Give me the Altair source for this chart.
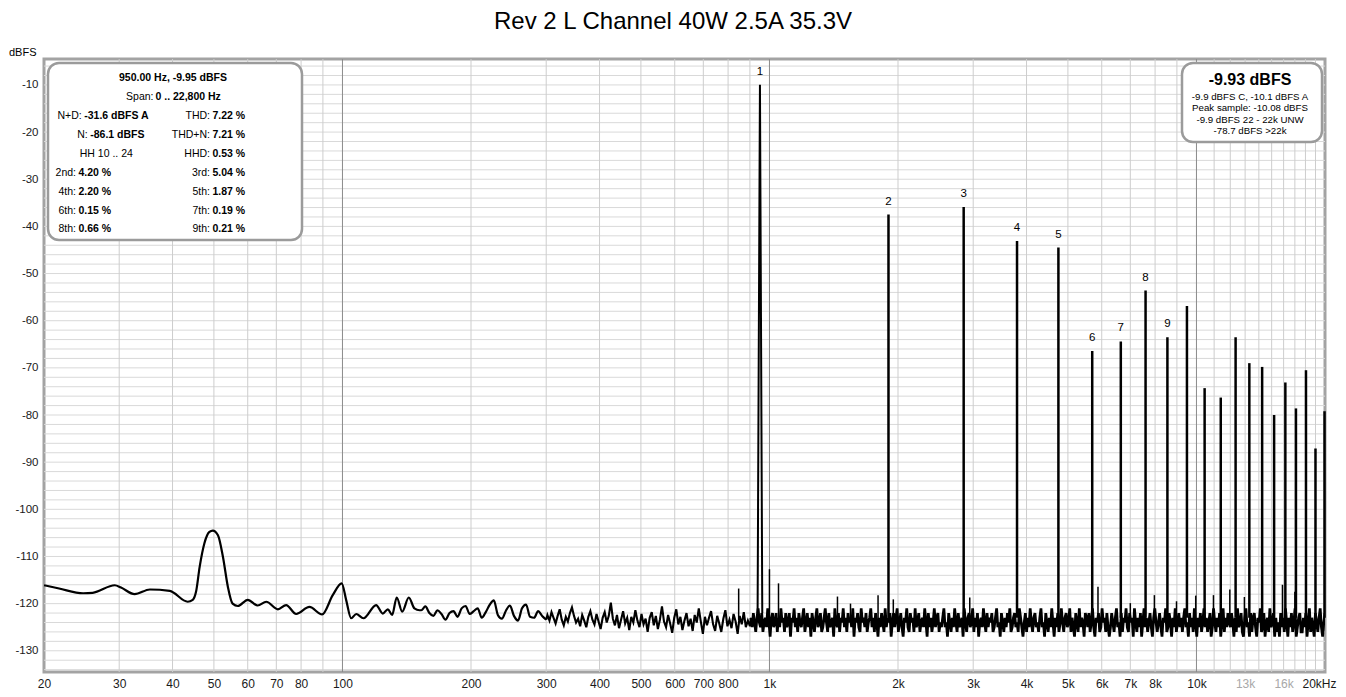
import altair as alt
import numpy as np
import pandas as pd

FONT = "Liberation Sans, Arial, sans-serif"

# ---------------- data ----------------
title_text = "Rev 2 L Channel 40W 2.5A 35.3V"

fund_freq = [950.0]
fund_db = [-9.95]
fund_shape_freq = [938, 950, 962]
fund_shape_db = [-122.0, -9.95, -122.0]

harm_freq = [1900, 2850, 3800, 4750, 5700, 6650, 7600, 8550, 9500, 10450,
             11400, 12350, 13300, 14250, 15200, 16150, 17100, 18050, 19000, 19950]
harm_db = [-37.5, -35.9, -43.1, -44.5, -66.4, -64.4, -53.6, -63.5, -56.9, -74.3,
           -76.3, -63.5, -69.0, -69.8, -80.0, -73.1, -78.6, -70.5, -87.1, -79.2]
harm_label = ["1", "2", "3", "4", "5", "6", "7", "8", "9"]

spur_freq = [847, 1000, 1050, 1443, 1548, 1796, 1950, 2945, 5880, 7000,
             7970, 8980, 9960, 10960, 11970, 12950, 15900, 17000]
spur_db = [-116.8, -112.7, -115.7, -118.5, -120.0, -118.2, -119.1, -118.7, -116.4, -119.9,
           -118.2, -119.5, -118.3, -118.2, -117.0, -118.6, -116.0, -117.5]

# low-frequency part of the noise floor (Hz, dBFS)
lf_freq = [20, 21.7, 24.7, 26.0, 29.3, 30.3, 32.6, 35.4, 39.4, 43.4, 44.6, 45.4, 46.3,
           47.5, 48.8, 49.7, 51.1, 52.5, 53.9, 55.3, 56.9, 60.0, 63.3, 66.3, 70.6, 73.8,
           77.9, 83.7, 89.6, 94.9, 99.6, 102, 104.8, 107.7, 112, 119.9, 124.3, 127.7,
           130.7, 134.0, 138, 143.0, 147.4, 151.5]
lf_db = [-116.1, -116.8, -117.8, -117.7, -116.1, -116.6, -118.0, -117.0, -117.3, -119.6,
         -119.2, -117.5, -112.2, -107.2, -104.8, -104.5, -105.5, -110.1, -116.4, -120.0,
         -120.5, -119.2, -120.4, -119.6, -121.2, -120.3, -122.2, -120.7, -122.3, -118.2,
         -115.7, -119.2, -123.1, -122.2, -123.1, -120.3, -122.1, -121.2, -122.4, -118.7,
         -121.7, -118.7, -121.0, -121.4]

# 153 .. 300 Hz
mid1_db = [-121.4, -120.6, -122.0, -122.6, -121.4, -122.2, -123.4, -122.0, -121.6, -122.8,
           -121.0, -120.5, -122.2, -121.6, -121.0, -123.0, -121.8, -120.2, -119.3, -122.4,
           -123.2, -121.5, -120.4, -122.6, -123.6, -121.0, -120.2, -122.8, -123.0, -121.6,
           -122.6, -123.4]

# 302 .. 900 Hz
mid2_db = [-122.4, -123.6, -121.8, -123.0, -124.2, -122.6, -121.2, -123.4, -124.6, -122.8,
           -123.8, -122.0, -120.8, -122.6, -124.0, -123.2, -124.8, -122.4, -123.6, -125.0,
           -122.8, -121.6, -123.4, -124.4, -122.2, -123.8, -125.4, -123.0, -121.8, -124.0,
           -122.6, -119.8, -123.2, -124.6, -122.4, -125.2, -123.4, -121.6, -124.2, -123.0,
           -125.6, -122.8, -124.0, -121.4, -123.6, -125.0, -122.2, -124.4, -123.2, -126.0,
           -123.0, -121.8, -124.6, -122.6, -125.4, -123.4, -120.6, -123.8, -125.0, -122.4,
           -124.2, -126.2, -123.0, -121.2, -124.4, -122.8, -125.6, -123.6, -122.0, -124.8,
           -123.2, -125.8, -122.4, -124.0, -121.0, -123.8, -126.4, -122.8, -124.6, -123.0,
           -121.6, -124.4, -125.8, -122.6, -124.2, -126.0, -123.2, -121.4, -124.8, -123.4,
           -125.2, -122.2, -123.8, -126.4, -122.6, -124.4, -121.8, -125.0, -123.6, -124.8]

# 905 Hz .. 20 kHz (dense FFT floor)
hf_rows = """
123 125 122 124 126 123 121 124 125 122 126 124 123 125 121 124 127 123 122 125
124 122 126 123 125 121 124 123 126 122 125 124 122 127 123 124 121 125 123 126
122 124 125 123 121 126 124 122 125 123 127 122 124 126 123 121 125 124 122 126
125 123 121 124 126 122 125 124 123 127 121 124 125 122 126 123 124 121 125 123
126 122 124 123 125 121 127 123 124 122 125 126 121 124 123 125 122 126 124 123
121 125 123 126 122 124 127 123 125 122 124 126 121 125 123 124 122 127 124 122
125 123 121 126 124 122 125 127 123 124 121 125 126 122 124 123 126 121 125 124
122 126 124 123 125 121 124 127 122 125 123 126 124 121 125 123 122 126 124 125
123 121 125 124 127 122 124 126 123 125 121 124 126 122 125 124 123 127 121 124
126 123 122 125 124 121 126 123 125 122 127 124 123 125 121 124 126 122 125 123
124 122 126 125 123 121 125 124 127 122 124 126 123 125 122 124 121 126 125 123
122 125 124 126 121 123 125 127 124 122 126 123 125 121 124 126 123 122 125 124
126 123 121 125 124 127 122 124 126 123 125 121 124 127 123 125 122 126 124 121
124 126 123 122 125 124 121 126 123 125 127 122 124 126 121 125 123 124 127 122
123 125 122 126 124 121 125 127 123 124 122 126 125 121 124 123 126 122 125 127
125 122 124 126 123 121 125 124 127 122 126 123 124 121 125 126 122 124 123 127
121 124 126 123 125 122 127 124 121 125 123 126 124 122 125 127 123 121 124 126
124 122 125 127 123 124 121 126 125 122 124 127 123 125 121 126 124 122 125 123
126 123 121 125 124 127 122 125 123 126 121 124 127 123 125 122 126 124 121 125
123 126 124 122 127 125 121 124 126 123 125 122 127 124 121 126 123 125 122 124
125 122 124 127 123 126 121 125 124 122 126 127 123 121 125 124 127 122 126 123
122 125 127 123 124 121 126 125 122 127 124 123 126 121 125 124 122 127 123 126
124 127 122 125 123 126 121 124 127 123 125 122 126 124 121 127 125 123 122 126
126 123 125 122 127 124 121 126 123 125 127 122 124 126 123 121 125 127 124 122
"""
hf_db = [-float(v) for v in hf_rows.split()]

# axes
x_tick_vals = [20, 30, 40, 50, 60, 70, 80, 100, 200, 300, 400, 500, 600, 700, 800,
               1000, 2000, 3000, 4000, 5000, 6000, 7000, 8000, 10000, 13000, 16000, 20000]
x_tick_text = ["20", "30", "40", "50", "60", "70", "80", "100", "200", "300", "400", "500",
               "600", "700", "800", "1k", "2k", "3k", "4k", "5k", "6k", "7k", "8k", "10k",
               "13k", "16k", "20kHz"]
x_faint = [13000, 16000]
x_grid_minor = [30, 40, 50, 60, 70, 80, 90, 200, 300, 400, 500, 600, 700, 800, 900,
                2000, 3000, 4000, 5000, 6000, 7000, 8000, 9000,
                11000, 12000, 13000, 14000, 15000, 16000, 17000, 18000, 19000]
x_grid_major = [100, 1000, 10000]
y_tick_vals = [-10, -20, -30, -40, -50, -60, -70, -80, -90, -100, -110, -120, -130]
y_grid = list(range(-134, -5, 2))

box_head = "950.00 Hz, -9.95 dBFS"
box_span = ("Span:", "0 .. 22,800 Hz")
box_left = [("N+D:", "-31.6 dBFS A"), ("N:", "-86.1 dBFS"), ("HH 10 .. 24", ""),
            ("2nd:", "4.20 %"), ("4th:", "2.20 %"), ("6th:", "0.15 %"), ("8th:", "0.66 %")]
box_right = [("THD:", "7.22 %"), ("THD+N:", "7.21 %"), ("HHD:", "0.53 %"),
             ("3rd:", "5.04 %"), ("5th:", "1.87 %"), ("7th:", "0.19 %"), ("9th:", "0.21 %")]
level_head = "-9.93 dBFS"
level_lines = ["-9.9 dBFS C, -10.1 dBFS A", "Peak sample: -10.08 dBFS",
               "-9.9 dBFS 22 - 22k UNW", "-78.7 dBFS >22k"]

# ---------------- tables ----------------
mid1_freq = list(np.geomspace(153, 300, len(mid1_db)))
mid2_freq = list(np.geomspace(302, 900, len(mid2_db)))
hf_freq = list(np.geomspace(905, 20000, len(hf_db)))
smooth = pd.DataFrame({"f": list(lf_freq) + mid1_freq, "db": list(lf_db) + mid1_db})
middle = pd.DataFrame({"f": [mid1_freq[-1]] + mid2_freq + [hf_freq[0]],
                       "db": [mid1_db[-1]] + mid2_db + [hf_db[0]]})
dense = pd.DataFrame({"f": hf_freq, "db": hf_db})

harm = pd.DataFrame({"f": harm_freq, "db": harm_db, "base": [-123.0] * len(harm_freq)})
spur = pd.DataFrame({"f": spur_freq, "db": spur_db, "base": [-123.5] * len(spur_freq)})
fund = pd.DataFrame({"f": fund_shape_freq, "db": fund_shape_db})
labels = pd.DataFrame({"f": fund_freq + harm_freq[:8], "db": fund_db + harm_db[:8],
                       "t": harm_label})
gmin = pd.DataFrame({"f": x_grid_minor})
gmaj = pd.DataFrame({"f": x_grid_major})
hgrid = pd.DataFrame({"db": y_grid})

# ---------------- scales / axes ----------------
W, H = 1281, 613
xs = alt.Scale(type="log", domain=[20, 20000], nice=False)
ys = alt.Scale(domain=[-134.5, -4.5], nice=False, zero=False)

expr = "''"
for v, t in reversed(list(zip(x_tick_vals, x_tick_text))):
    expr = f"(round(datum.value) == {v} ? '{t}' : {expr})"
faint_test = " || ".join(f"round(datum.value) == {v}" for v in x_faint)

xa = alt.Axis(values=x_tick_vals, labelExpr=expr, grid=False, ticks=False, tickSize=0,
              domain=False, labelFlush=False, labelOverlap=False, labelBound=False,
              labelPadding=6, labelFontSize=12, labelFont=FONT,
              labelColor={"condition": {"test": faint_test, "value": "#a8a8a8"},
                          "value": "#1a1a1a"},
              labelOffset={"condition": {"test": "round(datum.value) == 20000", "value": -6},
                           "value": 0},
              title=None)
ya = alt.Axis(values=y_tick_vals, labelExpr="'' + datum.value", grid=False, ticks=False,
              tickSize=0, domain=False, labelPadding=6, labelFontSize=11.5, labelFont=FONT,
              labelColor="#1a1a1a", labelOverlap=False, title=None)

X = alt.X("f:Q", scale=xs, axis=xa)
Y = alt.Y("db:Q", scale=ys, axis=ya)

layers = []
layers.append(alt.Chart(hgrid).mark_rule(color="#d9d9d9", strokeWidth=1).encode(y=Y))
layers.append(alt.Chart(gmin).mark_rule(color="#cdcdcd", strokeWidth=1).encode(x=X))
layers.append(alt.Chart(gmaj).mark_rule(color="#8a8a8a", strokeWidth=1).encode(x=X))
layers.append(alt.Chart(smooth).mark_line(color="#000000", strokeWidth=2.2, clip=True,
                                          interpolate="monotone")
              .encode(x=X, y=Y, order="f:Q"))
layers.append(alt.Chart(middle).mark_line(color="#000000", strokeWidth=2.1, clip=True)
              .encode(x=X, y=Y, order="f:Q"))
layers.append(alt.Chart(dense).mark_line(color="#000000", strokeWidth=2.7, clip=True)
              .encode(x=X, y=Y, order="f:Q"))
layers.append(alt.Chart(spur).mark_rule(color="#000000", strokeWidth=1.5)
              .encode(x=X, y=Y, y2="base:Q"))
layers.append(alt.Chart(harm).mark_rule(color="#000000", strokeWidth=2.5)
              .encode(x=X, y=Y, y2="base:Q"))
layers.append(alt.Chart(fund).mark_line(color="#000000", strokeWidth=2, strokeJoin="bevel")
              .encode(x=X, y=Y, order="f:Q"))
layers.append(alt.Chart(labels).mark_text(fontSize=11.5, font=FONT, color="#000000",
                                          baseline="middle", dy=-13)
              .encode(x=X, y=Y, text="t:N"))

dummy = pd.DataFrame({"k": [0]})


def note(text, x, y, size=10.5, bold=False, align="left", color="#000000", baseline="middle"):
    return (alt.Chart(dummy)
            .mark_text(align=align, baseline=baseline, fontSize=size,
                       fontWeight="bold" if bold else "normal", font=FONT, color=color)
            .encode(x=alt.value(x), y=alt.value(y), text=alt.value(text)))


def box(x1, y1, x2, y2):
    return (alt.Chart(dummy)
            .mark_rect(cornerRadius=11, fill="#ffffff", stroke="#9b9b9b", strokeWidth=2.5)
            .encode(x=alt.value(x1), x2=alt.value(x2), y=alt.value(y1), y2=alt.value(y2)))


# title & unit
layers.append(note(title_text, 629, -30, size=24, align="center", baseline="alphabetic"))
layers.append(note("dBFS", -35, -3, size=11, baseline="alphabetic"))

# left info box
layers.append(box(4, 4, 258, 181))
layers.append(note(box_head, 129, 18.7, bold=True, align="center"))
layers.append(note(box_span[0], 109.5, 37.7, align="right"))
layers.append(note(box_span[1], 111.5, 37.7, bold=True))
row_y = [56.7, 76, 95, 114.3, 132.7, 151.7, 170.3]
left_lab_x = [37.7, 43.7, None, 32, 32, 32, 32]
for i, (lab, val) in enumerate(box_left):
    if left_lab_x[i] is None:
        layers.append(note(lab, 62.3, row_y[i], align="center"))
    else:
        layers.append(note(lab, left_lab_x[i], row_y[i], align="right"))
        layers.append(note(val, left_lab_x[i] + 2.5, row_y[i], bold=True))
for i, (lab, val) in enumerate(box_right):
    layers.append(note(lab, 166, row_y[i], align="right"))
    layers.append(note(val, 168.5, row_y[i], bold=True))

# right level box
layers.append(box(1138, 4, 1278, 83))
layers.append(note(level_head, 1206, 21, size=16, bold=True, align="center"))
for i, s in enumerate(level_lines):
    layers.append(note(s, 1206, [38.3, 49.3, 61, 72][i], size=9.7, align="center"))

chart = (alt.layer(*layers)
         .properties(width=W, height=H,
                     autosize=alt.AutoSizeParams(type="none"),
                     padding={"left": 36, "top": 51, "right": 13, "bottom": 17},
                     background="#ffffff")
         .configure_view(stroke="#a3a3a3", strokeWidth=3))

chart.save("out.html", embed_options={"renderer": "svg", "actions": False})
